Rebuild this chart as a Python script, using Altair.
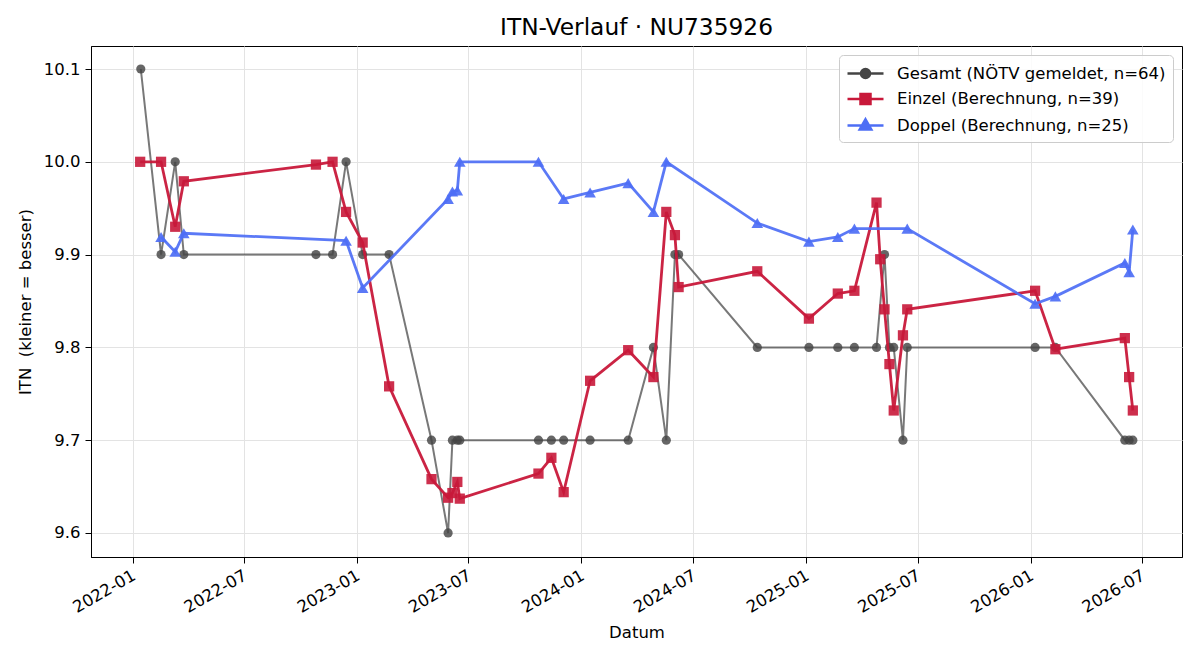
import altair as alt
import pandas as pd

# ---------------- data ----------------
series_names = [
    "Gesamt (NÖTV gemeldet, n=64)",
    "Einzel (Berechnung, n=39)",
    "Doppel (Berechnung, n=25)",
]

gesamt_dates = [
    "2022-01-14", "2022-02-16", "2022-03-11", "2022-03-25", "2022-10-26",
    "2022-11-22", "2022-12-14", "2023-01-10", "2023-02-22", "2023-05-02",
    "2023-05-29", "2023-06-05", "2023-06-13", "2023-06-17", "2023-10-23",
    "2023-11-13", "2023-12-03", "2024-01-15", "2024-03-17", "2024-04-27",
    "2024-05-18", "2024-06-01", "2024-06-07", "2024-10-13", "2025-01-05",
    "2025-02-21", "2025-03-20", "2025-04-25", "2025-05-08", "2025-05-16",
    "2025-05-23", "2025-06-07", "2025-06-14", "2026-01-08", "2026-02-10",
    "2026-06-03", "2026-06-10", "2026-06-16",
]
gesamt_values = [
    10.1, 9.9, 10.0, 9.9, 9.9,
    9.9, 10.0, 9.9, 9.9, 9.7,
    9.6, 9.7, 9.7, 9.7, 9.7,
    9.7, 9.7, 9.7, 9.7, 9.8,
    9.7, 9.9, 9.9, 9.8, 9.8,
    9.8, 9.8, 9.8, 9.9, 9.8,
    9.8, 9.7, 9.8, 9.8, 9.8,
    9.7, 9.7, 9.7,
]

einzel_dates = [
    "2022-01-13", "2022-02-16", "2022-03-11", "2022-03-25", "2022-10-26",
    "2022-11-22", "2022-12-14", "2023-01-10", "2023-02-22", "2023-05-02",
    "2023-05-29", "2023-06-05", "2023-06-13", "2023-06-17", "2023-10-23",
    "2023-11-13", "2023-12-03", "2024-01-15", "2024-03-17", "2024-04-27",
    "2024-05-18", "2024-06-01", "2024-06-07", "2024-10-13", "2025-01-05",
    "2025-02-21", "2025-03-20", "2025-04-25", "2025-05-01", "2025-05-08",
    "2025-05-16", "2025-05-23", "2025-06-07", "2025-06-14", "2026-01-08",
    "2026-02-10", "2026-06-03", "2026-06-10", "2026-06-16",
]
einzel_values = [
    10.0, 10.0, 9.930, 9.979, 9.997,
    10.0, 9.946, 9.913, 9.758, 9.658,
    9.638, 9.643, 9.655, 9.637, 9.664,
    9.681, 9.644, 9.764, 9.797, 9.768,
    9.946, 9.921, 9.865, 9.882, 9.831,
    9.858, 9.861, 9.956, 9.895, 9.841,
    9.782, 9.732, 9.813, 9.841, 9.861,
    9.798, 9.810, 9.768, 9.732,
]

doppel_dates = [
    "2022-02-16", "2022-03-11", "2022-03-25", "2022-12-14", "2023-01-10",
    "2023-05-29", "2023-06-05", "2023-06-13", "2023-06-17", "2023-10-23",
    "2023-12-03", "2024-01-15", "2024-03-17", "2024-04-27", "2024-05-18",
    "2024-10-13", "2025-01-05", "2025-02-21", "2025-03-20", "2025-06-14",
    "2026-01-08", "2026-02-10", "2026-06-03", "2026-06-10", "2026-06-16",
]
doppel_values = [
    9.919, 9.903, 9.923, 9.915, 9.864,
    9.960, 9.968, 9.969, 10.0, 10.0,
    9.960, 9.967, 9.977, 9.946, 10.0,
    9.934, 9.914, 9.919, 9.928, 9.928,
    9.847, 9.855, 9.891, 9.881, 9.927,
]

x_tick_labels = ["2022-01", "2022-07", "2023-01", "2023-07", "2024-01",
                 "2024-07", "2025-01", "2025-07", "2026-01", "2026-07"]
y_ticks = [9.6, 9.7, 9.8, 9.9, 10.0, 10.1]

# ---------------- styling ----------------
FONT = "DejaVu Sans"
colors = ["#444444", "#C8183A", "#4D6EF5"]
legend_paths = [
    "M-1.8,0L1.8,0M0.45,0A0.45,0.45 0 1 1 -0.45,0A0.45,0.45 0 1 1 0.45,0Z",
    "M-1.8,0L1.8,0M-0.5,-0.5L0.5,-0.5L0.5,0.5L-0.5,0.5Z",
    "M-1.8,0L1.8,0M0,-0.62L0.58,0.4L-0.58,0.4Z",
]


def ms(s):
    return int(pd.Timestamp(s, tz="UTC").value // 10**6)


x_scale = alt.Scale(type="utc", domain=[ms("2021-10-25"), ms("2026-09-04")], nice=False)
y_scale = alt.Scale(domain=[9.5741, 10.1248], nice=False, zero=False)

x_axis = alt.Axis(
    values=[ms(t + "-01") for t in x_tick_labels], format="%Y-%m",
    labelAngle=330, labelAlign="right", labelBaseline="top", labelOffset=-3,
    labelFont=FONT, labelFontSize=16.5, labelColor="black", labelPadding=4,
    tickSize=6, tickColor="black", domainColor="black",
    title="Datum", titleFont=FONT, titleFontSize=16.5, titleFontWeight="normal",
    titleColor="black", titlePadding=9,
    grid=True, gridColor="#e3e3e3", gridWidth=1,
)
y_axis = alt.Axis(
    values=y_ticks, format=".1f",
    labelFont=FONT, labelFontSize=16.5, labelColor="black", labelPadding=5,
    tickSize=6, tickColor="black", domainColor="black",
    title="ITN\u00a0 (kleiner = besser)", titleFont=FONT, titleFontSize=16.5,
    titleFontWeight="normal", titleColor="black", titlePadding=10,
    grid=True, gridColor="#e3e3e3", gridWidth=1,
)


def frame(dates, values, name):
    return pd.DataFrame({"datum": dates, "itn": values, "serie": name})


df_g = frame(gesamt_dates, gesamt_values, series_names[0])
df_e = frame(einzel_dates, einzel_values, series_names[1])
df_d = frame(doppel_dates, doppel_values, series_names[2])

X = alt.X("datum:T", scale=x_scale, axis=x_axis)
Y = alt.Y("itn:Q", scale=y_scale, axis=y_axis)
Xs = alt.X("datum:T", scale=x_scale)
Ys = alt.Y("itn:Q", scale=y_scale)

g_line = alt.Chart(df_g).mark_line(color=colors[0], opacity=0.72, strokeWidth=2).encode(x=X, y=Y)
g_pts = alt.Chart(df_g).mark_point(shape="circle", filled=True, color=colors[0],
                                   opacity=0.82, size=85).encode(x=Xs, y=Ys)
e_line = alt.Chart(df_e).mark_line(color=colors[1], opacity=0.95, strokeWidth=2.8).encode(x=Xs, y=Ys)
e_pts = alt.Chart(df_e).mark_point(shape="square", filled=True, color=colors[1],
                                   opacity=0.9, size=105).encode(x=Xs, y=Ys)
d_line = alt.Chart(df_d).mark_line(color=colors[2], opacity=0.92, strokeWidth=2.8).encode(x=Xs, y=Ys)
d_pts = alt.Chart(df_d).mark_point(shape="triangle-up", filled=True, color=colors[2],
                                   opacity=0.92, size=135).encode(x=Xs, y=Ys)

leg = alt.Legend(
    title=None, orient="top-right", offset=9,
    labelFont=FONT, labelFontSize=16.5, labelColor="black", labelLimit=500,
    labelOffset=20, symbolOffset=8, symbolSize=400, symbolStrokeWidth=2.5,
    rowPadding=4.5, padding=7, fillColor="rgba(255,255,255,0.85)",
    strokeColor="#cccccc", cornerRadius=4,
)
legend_df = pd.DataFrame({"serie": series_names})
legend_layer = alt.Chart(legend_df).mark_point(filled=True, opacity=1, strokeWidth=2.5).encode(
    x=Xs, y=Ys,
    fill=alt.Fill("serie:N", scale=alt.Scale(domain=series_names, range=colors), legend=leg),
    stroke=alt.Stroke("serie:N", scale=alt.Scale(domain=series_names, range=colors), legend=leg),
    shape=alt.Shape("serie:N", scale=alt.Scale(domain=series_names, range=legend_paths), legend=leg),
).transform_filter("false")

chart = alt.layer(
    g_line, g_pts, e_line, e_pts, d_line, d_pts, legend_layer
).properties(
    width=1091, height=511,
    title=alt.TitleParams("ITN-Verlauf · NU735926", font=FONT, fontSize=23.3,
                          fontWeight="normal", color="black", anchor="middle",
                          frame="group", baseline="alphabetic", offset=9, dy=21),
    autosize=alt.AutoSizeParams(type="none"),
    padding={"left": 91, "top": 46, "right": 18, "bottom": 103},
    background="white",
).configure_view(stroke="black", strokeWidth=1)

chart.save("out.html", embed_options={"renderer": "svg", "actions": False})
